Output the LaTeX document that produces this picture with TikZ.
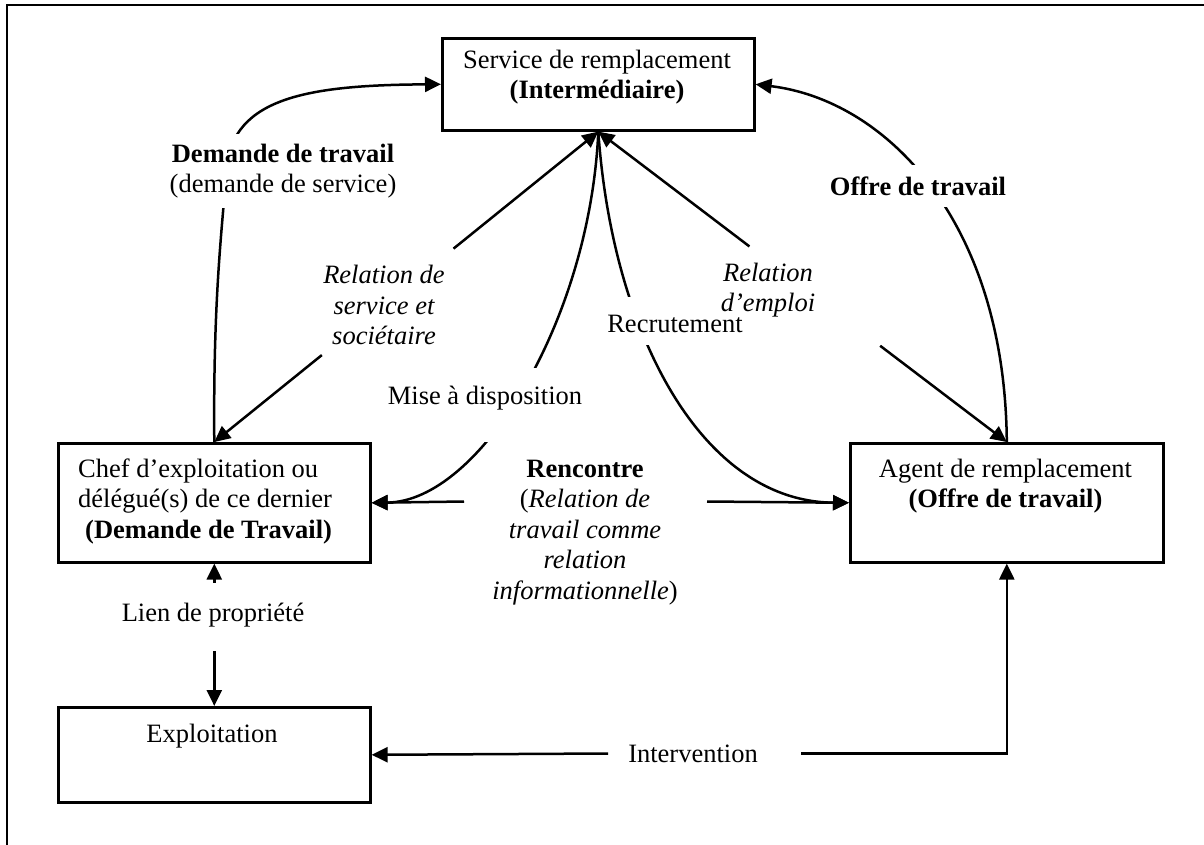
\documentclass[tikz,border=0pt]{standalone}
\usepackage{fontspec}
\setmainfont{Liberation Serif}
\usetikzlibrary{arrows.meta,calc}
\pgfdeclarelayer{bg}
\pgfsetlayers{bg,main}
\begin{document}
\begin{tikzpicture}[x=1pt,y=-1pt,
  every node/.style={font=\fontsize{26.5}{30.5}\selectfont},
  >={Triangle[length=16pt,width=15pt]},
  box/.style={draw, line width=2.6pt, inner sep=0pt, anchor=north west},
  txt/.style={align=center, inner sep=0pt, anchor=north},
  lbl/.style={align=center, fill=white, inner sep=#1},
  lbl/.default=8pt,
  itlbl/.style={align=center, inner sep=0pt, font=\fontsize{26.5}{30.5}\selectfont\itshape},
  gap/.style={fill=white, inner sep=0pt, anchor=base},
  conn/.style={line width=2.5pt},
  frame/.style={line width=2.2pt}
]
\useasboundingbox (0,0) rectangle (1204,845);
\draw[frame] (7,845) -- (7,5) -- (1204,5);

% boxes
\node[box, minimum width=312pt, minimum height=92pt] (top) at (441,37) {};
\node[box, minimum width=312pt, minimum height=119pt] (chef) at (57,442) {};
\node[box, minimum width=313pt, minimum height=119pt] (agent) at (849,442) {};
\node[box, minimum width=312pt, minimum height=95pt] (expl) at (57,706) {};

% box texts
\node[txt] (topt) at (597,46.65) {\strut Service de remplacement\\\textbf{(Intermédiaire)}};
\node[align=left, inner sep=0pt, anchor=north west] (cheft) at (78,455.65) {\strut Chef d’exploitation ou\\délégué(s) de ce dernier\\\hspace{7pt}\textbf{(Demande de Travail)}};
\node[txt] (agentt) at (1005.5,455.65) {\strut Agent de remplacement\\\textbf{(Offre de travail)}};
\node[inner sep=0pt, anchor=base] (explt) at (212,742) {Exploitation};

% labels that open gaps in curves
\node[gap, text height=35pt, text depth=13pt] (recrut) at (675,332) {Recrutement};
\node[gap, text height=36pt, text depth=38pt] (mise) at (485,404) {Mise à disposition};
\node[gap, text height=38pt, text depth=30pt] (lien) at (213,621) {Lien de propriété};
\node[lbl=10pt] (dem) at (283,171) {\textbf{Demande de travail}\\(demande de service)};
\node[lbl=12pt] (offre) at (918,186) {\textbf{Offre de travail}};

% other labels
\node[itlbl] (relserv) at (384,305) {Relation de\\service et\\sociétaire};
\node[itlbl] (relemp) at (768,290) {Relation\\d’emploi};
\node[txt] (renc) at (585,455.65) {\strut\textbf{Rencontre}\\(\textit{Relation de}\\\textit{travail comme}\\\textit{relation}\\\textit{informationnelle})};
\node[inner sep=0pt, anchor=base] (intv) at (693,762) {Intervention};

% free ends
\coordinate (rs1) at ($(top.south)!0.377!(chef.north)$);
\coordinate (rs2) at ($(top.south)!0.72!(chef.north)$);
\coordinate (re1) at ($(top.south)!0.37!(agent.north)$);
\coordinate (re2) at ($(top.south)!0.69!(agent.north)$);
\coordinate (rencL) at (464,501.5);
\coordinate (rencR) at (707,501.5);
\coordinate (intvL) at (608,753.5);
\coordinate (intvR) at (801,753.5);

\begin{pgfonlayer}{bg}
\draw[conn,->] (chef.north) .. controls (213,300) and (222,230) .. (226,176)
   .. controls (228,100) and (300,85) .. (top.west);
\draw[conn,->] (agent.north) .. controls (1005,220) and (885,100) .. (top.east);
\draw[conn,->] (rs1) -- (top.south);
\draw[conn,->] (rs2) -- (chef.north);
\draw[conn,->] (re1) -- (top.south);
\draw[conn,->] (re2) -- (agent.north);
\draw[conn,->] (top.south) .. controls (590,320) and (480,501.5) .. (chef.east);
\draw[conn,->] (top.south) .. controls (612,330) and (700,501.5) .. (agent.west);
\draw[conn,->] (rencL) -- (chef.east);
\draw[conn,->] (rencR) -- (agent.west);
\draw[conn,<->] (chef.south) -- (expl.north);
\draw[conn,->] (intvL) -- (expl.east);
\draw[conn,->] (intvR) -| (agent.south);
\end{pgfonlayer}
\end{tikzpicture}
\end{document}
